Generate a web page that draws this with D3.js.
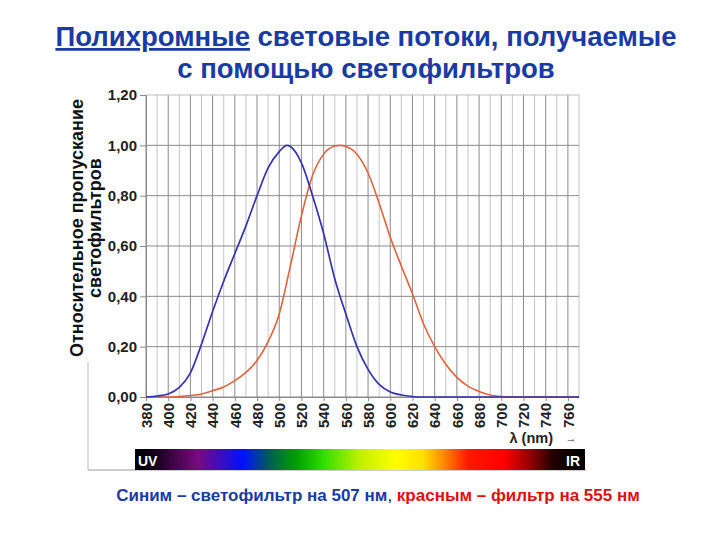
<!DOCTYPE html>
<html>
<head>
<meta charset="utf-8">
<script src="https://cdn.jsdelivr.net/npm/d3@7"></script>
<style>
  body { margin: 0; background: #fff; }
  svg text { font-family: "Liberation Sans", Arial, sans-serif; }
</style>
</head>
<body>
<svg id="chart" width="720" height="540"></svg>
<script>
// wavelength ticks (nm) and y ticks
const xTicks = [380, 400, 420, 440, 460, 480, 500, 520, 540, 560, 580, 600, 620, 640, 660, 680, 700, 720, 740, 760];
const gridNm = [380, 390, 400, 410, 420, 430, 440, 450, 460, 470, 480, 490, 500, 510, 520, 530, 540, 550, 560, 570,
    580, 590, 600, 610, 620, 630, 640, 650, 660, 670, 680, 690, 700, 710, 720, 730, 740, 750, 760, 770];
const yTicks = [0, 0.2, 0.4, 0.6, 0.8, 1.0, 1.2];

// blue filter, peak 507 nm
const blueNm = [380, 390, 400, 410, 420, 430, 440, 450, 460, 470, 480, 490, 500, 507, 510, 520, 530, 540, 550, 560,
    570, 580, 590, 600, 610, 620, 630, 700, 770];
const blueVal = [0, 0.004, 0.012, 0.038, 0.096, 0.21, 0.34, 0.46, 0.57, 0.68, 0.80, 0.91, 0.975, 1.0, 0.995, 0.93, 0.80,
    0.65, 0.47, 0.33, 0.20, 0.11, 0.05, 0.02, 0.008, 0.002, 0, 0, 0];

// red filter, peak 555 nm
const redNm = [380, 400, 410, 420, 430, 440, 450, 460, 470, 480, 490, 500, 510, 520, 530, 540, 550, 555, 560, 570,
    580, 590, 600, 610, 620, 630, 640, 650, 660, 670, 680, 690, 700, 710, 770];
const redVal = [0, 0, 0.002, 0.006, 0.012, 0.025, 0.04, 0.065, 0.098, 0.145, 0.22, 0.33, 0.52, 0.72, 0.88, 0.965, 0.997,
    1.0, 0.995, 0.965, 0.89, 0.77, 0.635, 0.52, 0.41, 0.29, 0.20, 0.13, 0.078, 0.043, 0.022, 0.008, 0.002, 0, 0];

// spectrum colour stops
const specOffsets = [0, 0.05, 0.14, 0.24, 0.30, 0.36, 0.42, 0.50, 0.58, 0.64, 0.69, 0.74, 0.82, 0.88, 0.93, 1];
const specColors = ['#000000', '#1a0020', '#7a0a80', '#0010ff', '#006050', '#00a000', '#30e000', '#c0f000',
    '#ffff00', '#ffe000', '#ff8000', '#ff1800', '#ff0000', '#900000', '#200000', '#000000'];

const svg = d3.select('#chart');
const x = d3.scaleLinear().domain([380, 770]).range([146, 579]);
const y = d3.scaleLinear().domain([0, 1.2]).range([397, 95]);

// title
const title = svg.append('text')
    .attr('x', 366)
    .attr('y', 46)
    .attr('text-anchor', 'middle')
    .style('font-size', '27.5px')
    .style('font-weight', 'bold')
    .attr('fill', '#1a3aa6');
title.append('tspan').attr('text-decoration', 'underline').text('Полихромные');
title.append('tspan').text(' световые потоки, получаемые');
svg.append('text')
    .attr('x', 366)
    .attr('y', 78)
    .attr('text-anchor', 'middle')
    .style('font-size', '27.5px')
    .style('font-weight', 'bold')
    .attr('fill', '#1a3aa6')
    .text('с помощью светофильтров');

// outer frame bits
svg.append('line')
    .attr('x1', 88).attr('y1', 362).attr('x2', 88).attr('y2', 470)
    .attr('stroke', '#bbb');
svg.append('line')
    .attr('x1', 88).attr('y1', 470).attr('x2', 586).attr('y2', 470)
    .attr('stroke', '#999');

// grid
svg.append('g')
    .selectAll('line')
    .data(gridNm)
    .join('line')
    .attr('x1', (d) => x(d))
    .attr('x2', (d) => x(d))
    .attr('y1', y(1.2))
    .attr('y2', y(0))
    .attr('stroke', (d) => (d % 20 === 0 ? '#8a8a8a' : '#c4c4c4'))
    .attr('stroke-width', 1);

svg.append('g')
    .selectAll('line')
    .data(yTicks)
    .join('line')
    .attr('x1', x(380))
    .attr('x2', x(770))
    .attr('y1', (d) => y(d))
    .attr('y2', (d) => y(d))
    .attr('stroke', (d) => (d === 1.2 ? '#bdbdbd' : '#8a8a8a'))
    .attr('stroke-width', 1);

// axes
const yAxis = svg.append('g')
    .attr('transform', `translate(${x(380)},0)`)
    .call(d3.axisLeft(y).tickValues(yTicks).tickSize(6).tickPadding(3)
        .tickFormat((d) => d3.format('.2f')(d).replace('.', ',')));
yAxis.select('.domain').attr('stroke', '#8a8a8a');
yAxis.selectAll('.tick line').attr('stroke', '#8a8a8a');
yAxis.selectAll('text')
    .style('font-size', '15px')
    .style('font-weight', 'bold')
    .style('font-family', '"Liberation Sans", Arial, sans-serif')
    .attr('fill', '#222');

const xAxis = svg.append('g')
    .attr('transform', `translate(0,${y(0)})`)
    .call(d3.axisBottom(x).tickValues(xTicks).tickSize(4).tickSizeOuter(0));
xAxis.select('.domain').attr('stroke', '#8a8a8a');
xAxis.selectAll('.tick line').attr('stroke', '#8a8a8a');
xAxis.selectAll('text')
    .attr('transform', 'rotate(-90)')
    .attr('x', -6)
    .attr('y', 0)
    .attr('dy', '0.35em')
    .attr('text-anchor', 'end')
    .style('font-size', '15px')
    .style('font-weight', 'bold')
    .style('font-family', '"Liberation Sans", Arial, sans-serif')
    .attr('fill', '#222');

// curves
const line = d3.line()
    .x((d) => x(d[0]))
    .y((d) => y(d[1]))
    .curve(d3.curveMonotoneX);

svg.append('path')
    .datum(redNm.map((d, i) => [d, redVal[i]]))
    .attr('d', line)
    .attr('fill', 'none')
    .attr('stroke', '#e2623c')
    .attr('stroke-width', 1.6);

svg.append('path')
    .datum(blueNm.map((d, i) => [d, blueVal[i]]))
    .attr('d', line)
    .attr('fill', 'none')
    .attr('stroke', '#3333b4')
    .attr('stroke-width', 1.7);

// axis title
svg.append('text')
    .attr('x', 553)
    .attr('y', 443)
    .attr('text-anchor', 'end')
    .style('font-size', '14.5px')
    .style('font-weight', 'bold')
    .attr('fill', '#222')
    .text('λ (nm)');
svg.append('text')
    .attr('x', 571)
    .attr('y', 442)
    .attr('text-anchor', 'middle')
    .style('font-size', '11px')
    .attr('fill', '#333')
    .text('→');

// spectrum bar
const grad = svg.append('defs').append('linearGradient')
    .attr('id', 'spectrum')
    .attr('x1', '0%').attr('x2', '100%');
grad.selectAll('stop')
    .data(specOffsets)
    .join('stop')
    .attr('offset', (d) => d)
    .attr('stop-color', (d, i) => specColors[i]);

svg.append('rect')
    .attr('x', 135).attr('y', 449)
    .attr('width', 450).attr('height', 21)
    .attr('fill', 'url(#spectrum)');
svg.append('text')
    .attr('x', 138).attr('y', 466)
    .style('font-size', '14px').style('font-weight', 'bold')
    .attr('fill', '#fff')
    .text('UV');
svg.append('text')
    .attr('x', 580).attr('y', 466)
    .attr('text-anchor', 'end')
    .style('font-size', '14px').style('font-weight', 'bold')
    .attr('fill', '#fff')
    .text('IR');

// y label
const yl = svg.append('g').attr('transform', 'translate(0,228) rotate(-90)');
yl.append('text')
    .attr('x', 0).attr('y', 83)
    .attr('text-anchor', 'middle')
    .style('font-size', '18px').style('font-weight', 'bold')
    .attr('fill', '#111')
    .text('Относительное пропускание');
yl.append('text')
    .attr('x', 0).attr('y', 101)
    .attr('text-anchor', 'middle')
    .style('font-size', '18px').style('font-weight', 'bold')
    .attr('fill', '#111')
    .text('светофильтров');

// caption
const cap = svg.append('text')
    .attr('x', 378).attr('y', 501)
    .attr('text-anchor', 'middle')
    .style('font-size', '17px')
    .style('font-weight', 'bold');
cap.append('tspan').attr('fill', '#1a3aa6').text('Синим – светофильтр на 507 нм');
cap.append('tspan').attr('fill', '#111').style('font-weight', 'normal').text(', ');
cap.append('tspan').attr('fill', '#e01010').text('красным – фильтр на 555 нм');
</script>
</body>
</html>
